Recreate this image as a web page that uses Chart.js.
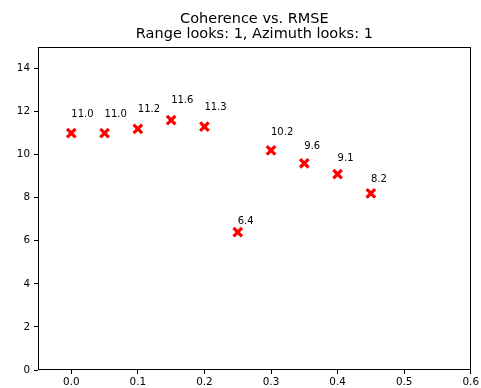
<!DOCTYPE html>
<html>
<head>
<meta charset="utf-8">
<script src="https://cdn.jsdelivr.net/npm/chart.js@4/dist/chart.umd.min.js"></script>
<style>
  html, body { margin: 0; padding: 0; background: #fff; }
  #wrap { width: 481px; height: 388px; }
</style>
</head>
<body>
<div id="wrap"><canvas id="c" width="481" height="388"></canvas></div>
<script>
// Coherence threshold vs. RMSE
const coherence = [0.0, 0.05, 0.1, 0.15, 0.2, 0.25, 0.3, 0.35, 0.4, 0.45];
const rmse = [11.0, 11.0, 11.2, 11.6, 11.3, 6.4, 10.2, 9.6, 9.1, 8.2];
const xTicks = [0.0, 0.1, 0.2, 0.3, 0.4, 0.5, 0.6];
const yTicks = [0, 2, 4, 6, 8, 10, 12, 14];
const titleLines = ['Coherence vs. RMSE', 'Range looks: 1, Azimuth looks: 1'];

const FONT = "'DejaVu Sans', sans-serif";

// frame around the plot area
const framePlugin = {
  id: 'frame',
  afterDraw(chart) {
    const { ctx, chartArea: a } = chart;
    ctx.save();
    ctx.strokeStyle = '#000';
    ctx.lineWidth = 1;
    ctx.strokeRect(Math.round(a.left) + 0.5, Math.round(a.top) + 0.5,
                   Math.round(a.right - a.left) - 1, Math.round(a.bottom - a.top) - 1);
    ctx.restore();
  }
};

// value annotations above each marker
const valueLabels = {
  id: 'valueLabels',
  afterDatasetsDraw(chart) {
    const { ctx, scales } = chart;
    ctx.save();
    ctx.font = '10px ' + FONT;
    ctx.fillStyle = '#000';
    ctx.textAlign = 'left';
    ctx.textBaseline = 'middle';
    coherence.forEach((c, i) => {
      const v = rmse[i];
      const x = scales.x.getPixelForValue(c);
      const y = scales.y.getPixelForValue(v * 1.08);
      ctx.fillText(v.toFixed(1), x, y);
    });
    ctx.restore();
  }
};

new Chart(document.getElementById('c'), {
  type: 'scatter',
  data: {
    datasets: [{
      data: coherence.map((c, i) => ({ x: c, y: rmse[i] })),
      pointStyle: 'crossRot',
      pointRadius: 6,
      pointHoverRadius: 6,
      borderColor: '#ff0000',
      backgroundColor: '#ff0000',
      borderWidth: 3.2
    }]
  },
  options: {
    responsive: false,
    animation: false,
    layout: { padding: { left: 0, right: 10, top: 0, bottom: 0 } },
    plugins: {
      legend: { display: false },
      tooltip: { enabled: false },
      title: {
        display: true,
        fullSize: false,   // centre the title over the plot area
        text: titleLines,
        color: '#000',
        font: { family: FONT, size: 14.5, weight: 'normal', lineHeight: 1.03 },
        padding: { top: 11.5, bottom: 5.6 }
      }
    },
    scales: {
      x: {
        type: 'linear',
        min: -0.05,
        max: 0.6,
        afterBuildTicks: s => { s.ticks = xTicks.map(v => ({ value: v })); },
        afterFit: s => { s.height = 18; },
        grid: { drawOnChartArea: false, drawTicks: true, tickLength: 4, color: '#000' },
        border: { display: false },
        ticks: {
          color: '#000',
          padding: 2,
          maxRotation: 0,
          font: { family: FONT, size: 10.4 },
          callback: v => Number(v).toFixed(1)
        }
      },
      y: {
        type: 'linear',
        min: 0,
        max: 15,
        afterBuildTicks: s => { s.ticks = yTicks.map(v => ({ value: v })); },
        afterFit: s => { s.width = 38; },
        grid: { drawOnChartArea: false, drawTicks: true, tickLength: 4, color: '#000' },
        border: { display: false },
        ticks: {
          color: '#000',
          padding: 4,
          font: { family: FONT, size: 10.4 },
          callback: v => String(v)
        }
      }
    }
  },
  plugins: [framePlugin, valueLabels]
});
</script>
</body>
</html>
